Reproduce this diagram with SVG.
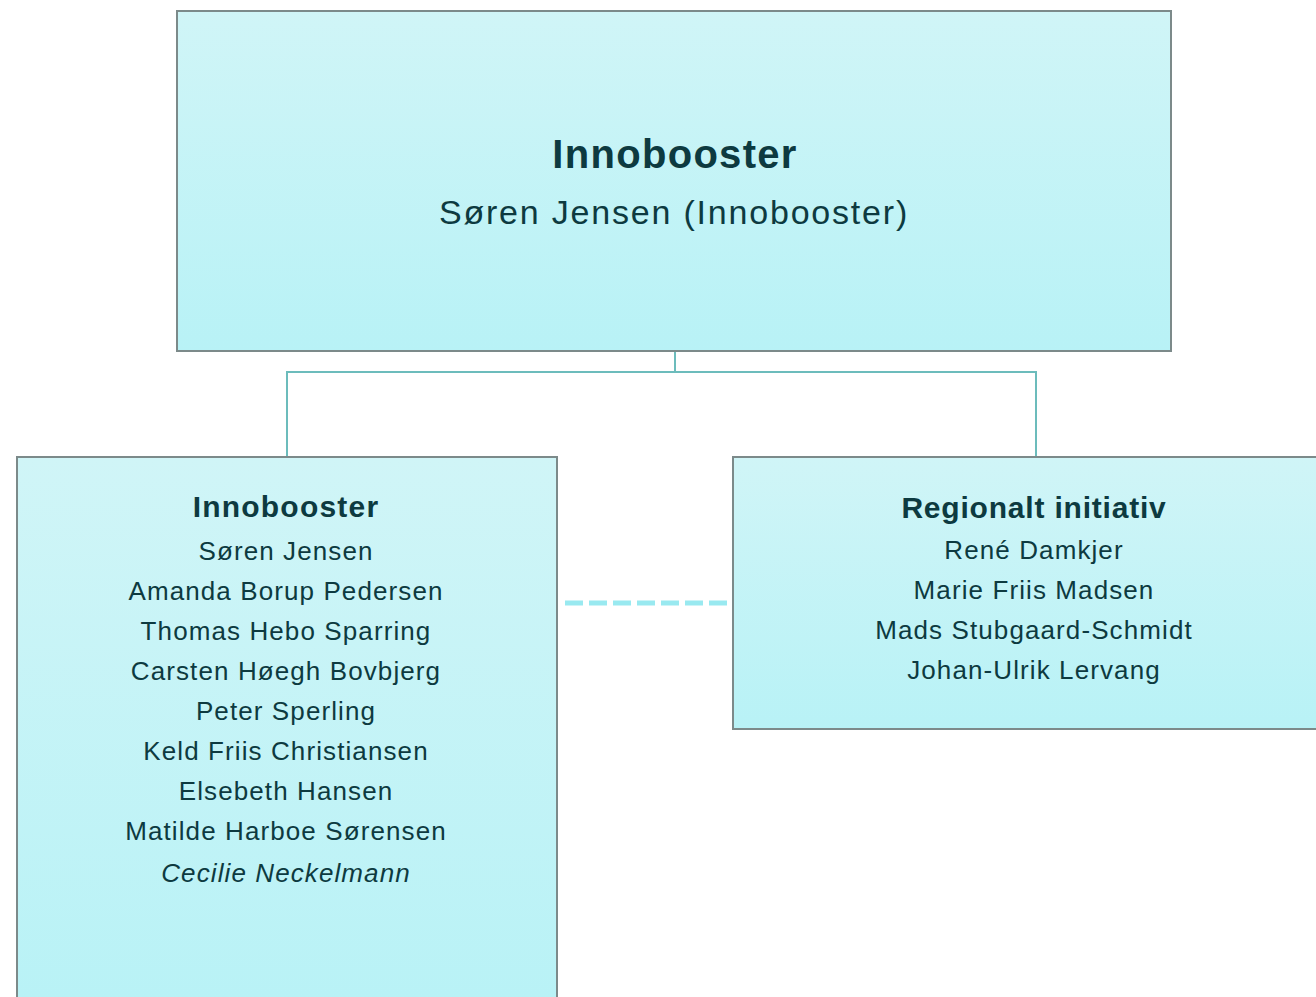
<svg xmlns="http://www.w3.org/2000/svg" width="1316" height="997" viewBox="0 0 1316 997">
<defs>
<linearGradient id="fill" x1="0" y1="0" x2="0" y2="1">
<stop offset="0" stop-color="#d0f5f7"/>
<stop offset="1" stop-color="#b8f2f6"/>
</linearGradient>
<style>
.box{fill:url(#fill);stroke:#7c8a8a;stroke-width:2}
.t{font-family:"Liberation Sans",Arial,sans-serif;fill:#0d3a40;text-anchor:middle}
.b{font-weight:bold}
.i{font-style:italic}
.con{fill:none;stroke:#6cbcbc;stroke-width:2}
.dash{fill:none;stroke:#99e9f0;stroke-width:5;stroke-dasharray:18 6}
</style>
</defs>
<rect width="1316" height="997" fill="#ffffff"/>
<g id="connectors">
<polyline class="con" points="675,351 675,372 287,372 287,457"/>
<polyline class="con" points="675,372 1036,372 1036,457"/>
<line class="dash" x1="565" y1="603" x2="727" y2="603"/>
</g>
<g id="node-top">
<rect class="box" x="177" y="11" width="994" height="340"/>
<text class="t b" x="675" y="168" font-size="40" letter-spacing="1.3">Innobooster</text>
<text class="t" x="674" y="224" font-size="34" letter-spacing="1.8">Søren Jensen (Innobooster)</text>
</g>
<g id="node-left">
<rect class="box" x="17" y="457" width="540" height="560"/>
<text class="t b" x="286" y="517" font-size="30" letter-spacing="1.2">Innobooster</text>
<g class="t" font-size="26" letter-spacing="1.1">
<text x="286" y="560">Søren Jensen</text>
<text x="286" y="600">Amanda Borup Pedersen</text>
<text x="286" y="640">Thomas Hebo Sparring</text>
<text x="286" y="680">Carsten Høegh Bovbjerg</text>
<text x="286" y="720">Peter Sperling</text>
<text x="286" y="760">Keld Friis Christiansen</text>
<text x="286" y="800">Elsebeth Hansen</text>
<text x="286" y="840">Matilde Harboe Sørensen</text>
<text class="i" x="286" y="882">Cecilie Neckelmann</text>
</g>
</g>
<g id="node-right">
<rect class="box" x="733" y="457" width="600" height="272"/>
<text class="t b" x="1034" y="518" font-size="30" letter-spacing="0.8">Regionalt initiativ</text>
<g class="t" font-size="26" letter-spacing="1.1">
<text x="1034" y="559">René Damkjer</text>
<text x="1034" y="599">Marie Friis Madsen</text>
<text x="1034" y="639">Mads Stubgaard-Schmidt</text>
<text x="1034" y="679">Johan-Ulrik Lervang</text>
</g>
</g>
</svg>
